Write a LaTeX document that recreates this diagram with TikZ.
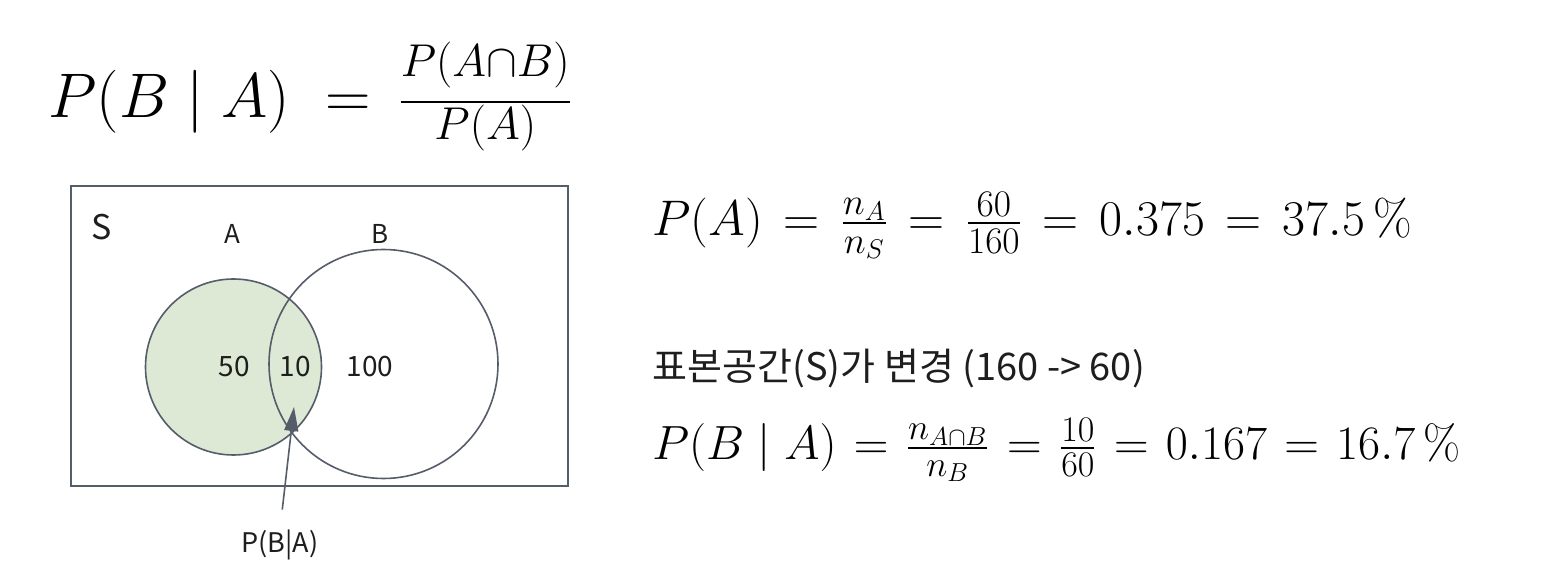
\RequirePackage{fix-cm}
\documentclass[tikz,border=0pt]{standalone}
\usepackage{amsmath}
\usepackage{fontspec}
\newfontfamily\kr{Noto Sans CJK KR}
\usetikzlibrary{arrows.meta}
\DeclareMathSizes{31.5}{31.5}{23}{16}
\DeclareMathSizes{25}{25}{18.75}{13.5}
\DeclareMathSizes{24}{24}{18}{13}
\definecolor{edge}{HTML}{555C6A}
\definecolor{agreen}{HTML}{DDE8D5}
\definecolor{txt}{HTML}{1E1E1E}
\newcommand\Eq{\mskip2.5mu=\mskip2.5mu}
\newcommand\Eqs{\mskip1.5mu=\mskip1.5mu}
\begin{document}
\begin{tikzpicture}[x=0.5pt,y=-0.5pt,
  lbl/.style={font=\kr\fontsize{13}{15}\selectfont, text=txt, inner sep=0},
  bigmath/.style={font=\fontsize{31.5}{38}\selectfont, text=black, inner sep=0, anchor=base west},
  rmath/.style={font=\fontsize{24}{29}\selectfont, text=black, inner sep=0, anchor=base west},
  venn/.style={circle, draw=edge, line width=0.8pt, inner sep=0}]
\useasboundingbox[fill=white] (0,0) rectangle (1564,576);
% title formula
\node[bigmath] (main) at (48,118) {$P(B\mid A)\mskip5mu=\mskip3mu\tfrac{P(A{\cap}B)\rule[-11.25pt]{0pt}{11.25pt}}{P(A)}$};
% sample space
\node[draw=edge, line width=1pt, minimum width=248.5pt, minimum height=150pt, inner sep=0] (Sbox) at (319.5,336) {};
\node[venn, fill=agreen, minimum size=88pt] (A) at (233.5,367) {};
\node[venn, minimum size=114.5pt] (B) at (383.5,364) {};
\node[lbl, font=\kr\fontsize{17}{20}\selectfont] (Slab) at (102,227) {S};
\node[lbl] (Alab) at (232,234) {A};
\node[lbl] (Blab) at (380,234) {B};
\node[lbl, font=\kr\fontsize{14}{16}\selectfont] (n50) at (234,367) {50};
\node[lbl, font=\kr\fontsize{14}{16}\selectfont] (n10) at (295,367) {10};
\node[lbl, font=\kr\fontsize{14}{16}\selectfont] (n100) at (370,367) {100};
\node[lbl, font=\kr\fontsize{13.5}{16}\selectfont] (pba) at (280,545) {P(B|A)};
\coordinate (tip) at (294,407);
\draw[edge, line width=0.8pt, shorten <=10pt, -{Triangle[length=12pt,width=7pt]}] (pba.north) -- (tip);
% right side
\node[rmath, font=\fontsize{25}{30}\selectfont] (pa) at (652,236) {$P(A) \Eq \tfrac{n_A}{n_S} \Eq \tfrac{60}{160} \Eq 0.375 \Eq 37.5\,\%$};
\node[anchor=west, font=\kr\fontsize{19}{22}\selectfont, text=txt, inner sep=0] (kt) at (652,369) {표본공간(S)가 변경 (160 -> 60)};
\node[rmath] (pcond) at (652,460) {$P(B\mid A) \Eqs \tfrac{n_{A\cap B}}{n_B} \Eqs \tfrac{10}{60} \Eqs 0.167 \Eqs 16.7\,\%$};
\end{tikzpicture}
\end{document}
